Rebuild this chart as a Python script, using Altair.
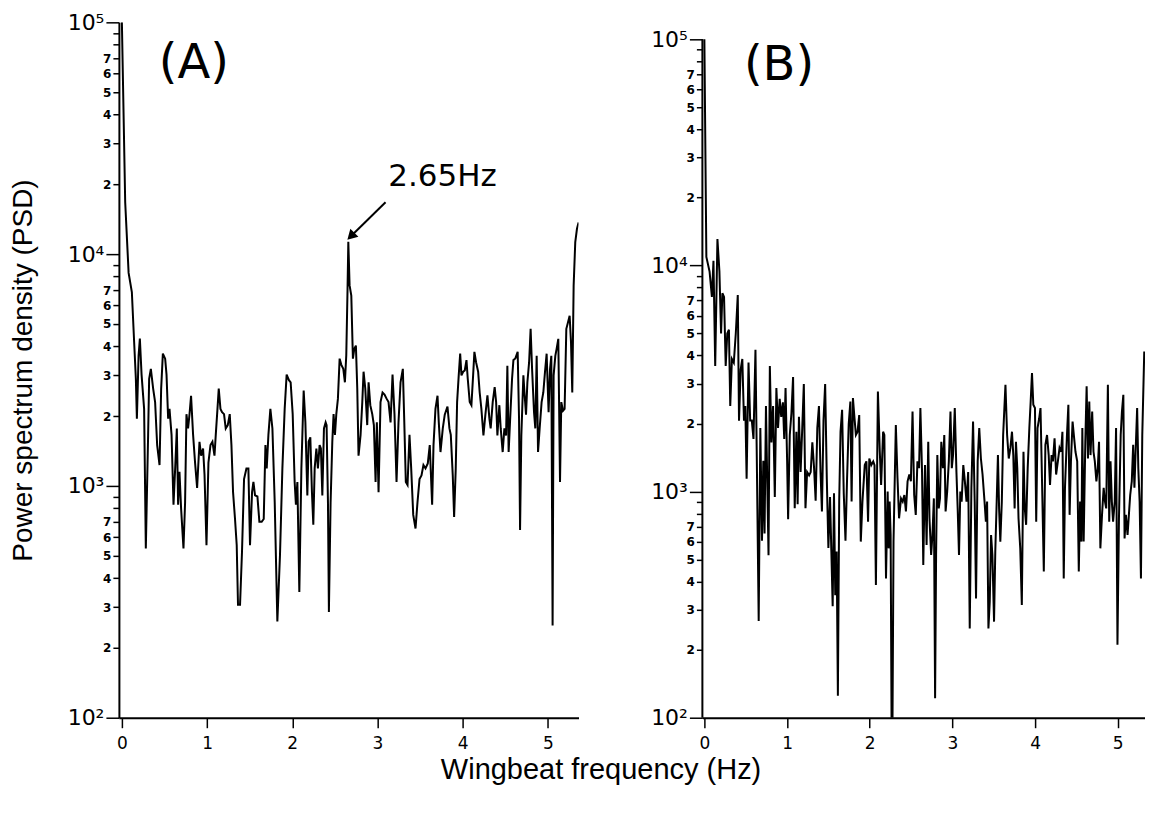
import altair as alt
import pandas as pd

# ---------------- data ----------------
a_freq = [
    0.000, 0.039, 0.079, 0.117, 0.144, 0.164, 0.176, 0.196, 0.211, 0.231,
    0.261, 0.281, 0.308, 0.320, 0.340, 0.367, 0.390, 0.414, 0.442, 0.461,
    0.481, 0.508, 0.524, 0.543, 0.559, 0.583, 0.606, 0.625, 0.645, 0.660,
    0.676, 0.695, 0.723, 0.742, 0.758, 0.777, 0.794, 0.812, 0.836, 0.859,
    0.883, 0.911, 0.930, 0.953, 0.970, 0.993, 1.016, 1.040, 1.063, 1.087,
    1.102, 1.122, 1.137, 1.157, 1.176, 1.199, 1.219, 1.243, 1.266, 1.286,
    1.305, 1.328, 1.348, 1.363, 1.387, 1.410, 1.434, 1.462, 1.485, 1.504,
    1.528, 1.544, 1.563, 1.591, 1.614, 1.641, 1.665, 1.685, 1.700, 1.720,
    1.743, 1.767, 1.794, 1.825, 1.856, 1.884, 1.911, 1.934, 1.961, 1.981,
    2.005, 2.028, 2.043, 2.060, 2.083, 2.107, 2.134, 2.154, 2.177, 2.192,
    2.212, 2.231, 2.247, 2.263, 2.283, 2.301, 2.321, 2.336, 2.353, 2.372,
    2.392, 2.403, 2.419, 2.430, 2.450, 2.470, 2.485, 2.501, 2.517, 2.536,
    2.556, 2.576, 2.599, 2.618, 2.634, 2.649, 2.658, 2.673, 2.693, 2.712,
    2.728, 2.747, 2.763, 2.778, 2.802, 2.822, 2.837, 2.857, 2.880, 2.896,
    2.916, 2.939, 2.958, 2.978, 2.993, 3.013, 3.036, 3.060, 3.083, 3.107,
    3.130, 3.154, 3.177, 3.200, 3.224, 3.247, 3.271, 3.298, 3.314, 3.333,
    3.353, 3.376, 3.396, 3.420, 3.447, 3.470, 3.494, 3.517, 3.540, 3.564,
    3.591, 3.614, 3.642, 3.658, 3.681, 3.705, 3.720, 3.740, 3.767, 3.790,
    3.822, 3.845, 3.861, 3.884, 3.900, 3.919, 3.935, 3.954, 3.971, 3.986,
    4.006, 4.025, 4.045, 4.060, 4.083, 4.103, 4.123, 4.138, 4.158, 4.182,
    4.200, 4.220, 4.244, 4.267, 4.291, 4.314, 4.329, 4.353, 4.376, 4.393,
    4.408, 4.431, 4.447, 4.470, 4.490, 4.510, 4.525, 4.540, 4.560, 4.580,
    4.596, 4.619, 4.646, 4.662, 4.674, 4.689, 4.713, 4.728, 4.744, 4.760,
    4.780, 4.798, 4.815, 4.838, 4.853, 4.869, 4.885, 4.904, 4.927, 4.947,
    4.967, 4.986, 5.009, 5.026, 5.041, 5.056, 5.068, 5.088, 5.103, 5.123,
    5.143, 5.158, 5.178, 5.197, 5.217, 5.237, 5.256, 5.272, 5.287, 5.303,
    5.322, 5.342, 5.361,
]
a_psd = [
    100000, 16700, 8300, 6860, 4170, 2900, 1950, 3640, 4320, 3020,
    2150, 537, 1660, 2900, 3200, 2630, 2300, 1500, 1230, 2630,
    3720, 3540, 3020, 1950, 2150, 1660, 830, 1180, 1770, 830,
    1150, 800, 537, 850, 2040, 1770, 2040, 2450, 1660, 1260,
    980, 1550, 1350, 1450, 1120, 555, 1260, 1500, 1550, 1350,
    1660, 2150, 2630, 2150, 2080, 2040, 1770, 1830, 2040, 1500,
    940, 720, 555, 307, 307, 520, 1070, 1190, 1190, 555,
    940, 1040, 910, 900, 700, 700, 720, 1500, 1190, 1660,
    2150, 1770, 850, 260, 505, 1190, 2150, 3020, 2860, 2800,
    2040, 1040, 830, 1040, 349, 1190, 2580, 1880, 910, 1550,
    1620, 940, 680, 1190, 1450, 1190, 1500, 1450, 910, 1770,
    1880, 1830, 850, 286, 850, 1550, 2040, 1660, 2040, 2380,
    3540, 3330, 3200, 2800, 3660, 7100, 11300, 7330, 6620, 3540,
    3900, 4030, 2630, 1350, 1660, 2300, 3110, 2630, 1830, 2800,
    2230, 2040, 1830, 1040, 1880, 940, 2300, 2530, 2480, 2380,
    2300, 1880, 3020, 2040, 1040, 1880, 2800, 3200, 1950, 1040,
    1010, 1660, 1190, 750, 655, 850, 1070, 1110, 1230, 1190,
    1250, 1500, 830, 1500, 2150, 2450, 1880, 1400, 1770, 2030,
    2200, 1770, 1660, 1110, 735, 1190, 2300, 3000, 3720, 3000,
    3110, 3150, 3490, 2900, 2300, 2230, 3000, 3790, 3410, 3110,
    2530, 2150, 1650, 2030, 2460, 1950, 1770, 2300, 2670, 2300,
    1650, 2230, 1770, 1400, 1770, 1650, 3300, 1400, 2030, 2900,
    3490, 3550, 3790, 1950, 645, 1650, 3000, 2460, 2030, 2800,
    3410, 4760, 3200, 2080, 1770, 3640, 1400, 1770, 2300, 2530,
    3110, 3720, 2080, 3200, 3640, 250, 3000, 3640, 3900, 4310,
    1040, 2300, 2110, 2150, 4760, 5080, 5420, 4170, 2530, 7330,
    11270, 12860, 13700,
]

b_freq = [
    0.000, 0.024, 0.063, 0.091, 0.110, 0.131, 0.158, 0.182, 0.202, 0.218,
    0.238, 0.258, 0.277, 0.297, 0.313, 0.333, 0.356, 0.380, 0.404, 0.419,
    0.439, 0.459, 0.479, 0.495, 0.511, 0.534, 0.554, 0.574, 0.594, 0.618,
    0.633, 0.657, 0.677, 0.697, 0.713, 0.728, 0.745, 0.760, 0.776, 0.792,
    0.811, 0.831, 0.852, 0.871, 0.891, 0.911, 0.930, 0.950, 0.966, 0.982,
    1.001, 1.013, 1.033, 1.053, 1.073, 1.093, 1.113, 1.128, 1.144, 1.164,
    1.184, 1.203, 1.223, 1.243, 1.267, 1.286, 1.306, 1.327, 1.346, 1.366,
    1.386, 1.405, 1.422, 1.441, 1.461, 1.481, 1.500, 1.520, 1.536, 1.552,
    1.568, 1.583, 1.600, 1.615, 1.631, 1.647, 1.666, 1.686, 1.707, 1.726,
    1.746, 1.766, 1.781, 1.797, 1.813, 1.833, 1.853, 1.873, 1.892, 1.912,
    1.940, 1.960, 1.980, 1.995, 2.019, 2.043, 2.058, 2.075, 2.099, 2.122,
    2.138, 2.162, 2.177, 2.197, 2.217, 2.229, 2.241, 2.253, 2.264, 2.276,
    2.288, 2.316, 2.336, 2.355, 2.379, 2.399, 2.419, 2.438, 2.458, 2.479,
    2.498, 2.518, 2.538, 2.557, 2.577, 2.597, 2.613, 2.633, 2.648, 2.669,
    2.688, 2.708, 2.723, 2.743, 2.759, 2.776, 2.791, 2.803, 2.818, 2.835,
    2.850, 2.866, 2.886, 2.902, 2.918, 2.937, 2.957, 2.977, 2.993, 3.008,
    3.029, 3.049, 3.064, 3.080, 3.096, 3.112, 3.132, 3.151, 3.171, 3.191,
    3.210, 3.230, 3.250, 3.270, 3.286, 3.306, 3.325, 3.345, 3.365, 3.389,
    3.405, 3.420, 3.436, 3.452, 3.468, 3.484, 3.504, 3.519, 3.536, 3.551,
    3.565, 3.580, 3.598, 3.614, 3.642, 3.662, 3.682, 3.702, 3.721, 3.737,
    3.753, 3.769, 3.785, 3.800, 3.821, 3.840, 3.860, 3.876, 3.892, 3.911,
    3.931, 3.947, 3.963, 3.979, 3.999, 4.014, 4.030, 4.050, 4.066, 4.086,
    4.106, 4.125, 4.145, 4.165, 4.181, 4.200, 4.216, 4.236, 4.255, 4.276,
    4.296, 4.315, 4.331, 4.347, 4.362, 4.386, 4.403, 4.418, 4.434, 4.454,
    4.469, 4.489, 4.510, 4.529, 4.545, 4.561, 4.572, 4.588, 4.608, 4.624,
    4.640, 4.656, 4.671, 4.691, 4.707, 4.723, 4.742, 4.759, 4.774, 4.790,
    4.810, 4.830, 4.846, 4.861, 4.881, 4.897, 4.913, 4.929, 4.944, 4.964,
    4.980, 4.997, 5.015, 5.036, 5.051, 5.068, 5.083, 5.099, 5.119, 5.135,
    5.151, 5.170, 5.187, 5.202, 5.218, 5.235, 5.249, 5.265, 5.281, 5.297,
    5.321,
]
b_psd = [
    100000, 10900, 9400, 7260, 10500, 3590, 13100, 9400, 5000, 7540,
    7260, 3590, 5000, 5200, 2390, 3860, 3720, 5000, 7400, 2060,
    3460, 3860, 2060, 2390, 1140, 3720, 2060, 2060, 1710, 4240,
    1530, 268, 1910, 607, 1370, 653, 2390, 1140, 523, 3590,
    1650, 2390, 946, 2870, 1910, 2570, 2140, 2480, 1710, 2870,
    1370, 755, 1780, 2220, 3210, 845, 1840, 880, 2140, 1220,
    1910, 2990, 845, 1220, 1180, 1220, 1650, 1270, 912, 1910,
    2390, 1220, 817, 2060, 2990, 1140, 563, 946, 543, 311,
    982, 348, 543, 125, 912, 1840, 2300, 982, 607, 1140,
    1990, 2500, 903, 2590, 2180, 1780, 1840, 2180, 601, 903,
    1310, 1360, 736, 1400, 1310, 1360, 1310, 386, 2770, 1500,
    1070, 1840, 1780, 413, 1000, 561, 903, 643, 100, 100,
    601, 1970, 1150, 762, 933, 903, 966, 817, 1110, 1190,
    1110, 2260, 966, 789, 1360, 1270, 2340, 1220, 474, 1310,
    581, 1660, 762, 525, 643, 933, 122, 525, 1450, 843,
    933, 1660, 1270, 1780, 817, 1000, 1360, 2260, 1270, 1450,
    2340, 1220, 843, 525, 1000, 903, 1310, 1110, 903, 1220,
    248, 1040, 2040, 903, 337, 1360, 1910, 1400, 1190, 903,
    736, 903, 248, 326, 643, 525, 266, 543, 903, 1450,
    843, 601, 903, 1780, 2970, 1780, 1400, 1560, 1840, 1450,
    843, 1660, 1270, 762, 561, 315, 1500, 843, 713, 1270,
    1910, 2500, 3340, 2420, 2340, 736, 1910, 2110, 2340, 1040,
    443, 1610, 1780, 1450, 1070, 1450, 1360, 1720, 1190, 1360,
    1560, 1500, 1840, 413, 1040, 1780, 2420, 789, 1360, 2040,
    1780, 1500, 1360, 443, 903, 601, 1910, 601, 1660, 2920,
    1400, 2500, 1450, 2260, 1500, 1360, 1110, 1270, 1660, 561,
    789, 1040, 903, 843, 2970, 736, 1360, 903, 736, 903,
    1910, 210, 762, 1780, 2260, 2680, 621, 789, 643, 789,
    966, 1110, 1610, 1040, 1560, 2340, 1270, 903, 413, 1780,
    4160,
]

y_tick_values = [100, 200, 300, 400, 500, 600, 700, 800, 900,
                 1000, 2000, 3000, 4000, 5000, 6000, 7000, 8000, 9000,
                 10000, 20000, 30000, 40000, 50000, 60000, 70000, 80000, 90000,
                 100000]
x_tick_values = [0, 1, 2, 3, 4, 5]

a_x_domain = [-0.035, 5.36]
a_y_domain = [100, 100000]
b_x_domain = [-0.024, 5.33]
b_y_domain = [100, 118900]      # panel B's axis stops at 1e5, a little below the top
b_axis_line_psd = [100, 100000]

panel_text = ["(A)", "(B)"]
panel_text_f = [0.844, 0.903]
panel_text_psd = [65900, 76000]

peak_label = ["2.65Hz"]
peak_label_f = [3.763]
peak_label_psd = [21500]
arrow_f = [3.095]
arrow_psd = [16750]
arrow_f2 = [2.688]
arrow_psd2 = [11940]

# ---------------- chart ----------------
df_a = pd.DataFrame({"f": a_freq, "psd": a_psd})
df_b = pd.DataFrame({"f": b_freq, "psd": b_psd})

major = "datum.value==100||datum.value==1000||datum.value==10000||datum.value==100000"
lead = "round(datum.value/pow(10,floor(log(datum.value)/LN10+1e-6)))"
label_expr = ("datum.value==100?'10²':datum.value==1000?'10³':datum.value==10000?'10⁴':"
              "datum.value==100000?'10⁵':(" + lead + ">=8?'':''+" + lead + ")")

y_common = dict(
    values=y_tick_values,
    labelExpr=label_expr,
    labelOverlap=False,
    labelFont="DejaVu Sans",
    labelColor="black",
    labelFontSize={"condition": {"test": major, "value": 22}, "value": 12},
    labelFontWeight={"condition": {"test": major, "value": "normal"}, "value": "bold"},
    tickSize={"condition": {"test": major, "value": 13}, "value": 6},
    labelPadding=2,
    tickColor="black",
    tickWidth=1.5,
    domainColor="black",
    domainWidth=2,
    grid=False,
)

x_axis = alt.Axis(
    title=None,
    values=x_tick_values,
    format="d",
    labelFont="DejaVu Sans",
    labelFontSize=17,
    labelColor="black",
    labelFlush=False,
    labelPadding=8,
    tickSize=10,
    tickColor="black",
    tickWidth=1.5,
    domainColor="black",
    domainWidth=2,
    grid=False,
)


def panel(df, xdom, ydom, ytitle, idx, w, h):
    xs = alt.Scale(domain=xdom, nice=False, zero=False)
    ys = alt.Scale(type="log", domain=ydom, nice=False)
    if ytitle:
        yax = alt.Axis(title=ytitle, titleFont="Liberation Sans", titleFontSize=28,
                       titleFontWeight="normal", titleColor="black", titlePadding=30,
                       **y_common)
    else:
        yax = alt.Axis(title=None, domain=False, **y_common)
    line = alt.Chart(df).mark_line(color="black", strokeWidth=2.0, clip=True).encode(
        x=alt.X("f:Q", scale=xs, axis=x_axis),
        y=alt.Y("psd:Q", scale=ys, axis=yax),
    )
    lab_df = pd.DataFrame({"f": [panel_text_f[idx]], "psd": [panel_text_psd[idx]],
                           "t": [panel_text[idx]]})
    lab = alt.Chart(lab_df).mark_text(font="DejaVu Sans", fontSize=48, color="black",
                                      baseline="middle", align="center").encode(
        x="f:Q", y="psd:Q", text="t:N")
    layers = [line, lab]
    if idx == 0:
        pk = pd.DataFrame({"f": peak_label_f, "psd": peak_label_psd, "t": peak_label})
        txt = alt.Chart(pk).mark_text(font="DejaVu Sans", fontSize=31, color="black",
                                      baseline="middle", align="center").encode(
            x="f:Q", y="psd:Q", text="t:N")
        ar = pd.DataFrame({"f": arrow_f, "psd": arrow_psd, "f2": arrow_f2, "psd2": arrow_psd2})
        rule = alt.Chart(ar).mark_rule(color="black", strokeWidth=2).encode(
            x="f:Q", y="psd:Q", x2="f2:Q", y2="psd2:Q")
        head = alt.Chart(ar).mark_point(shape="triangle-up", filled=True, size=130,
                                        angle=225, color="black", opacity=1).encode(
            x="f2:Q", y="psd2:Q")
        layers += [txt, rule, head]
    else:
        ax_df = pd.DataFrame({"f": [xdom[0]], "psd": [b_axis_line_psd[0]],
                              "psd2": [b_axis_line_psd[1]]})
        axis_line = alt.Chart(ax_df).mark_rule(color="black", strokeWidth=2).encode(
            x="f:Q", y="psd:Q", y2="psd2:Q")
        layers += [axis_line]
    return alt.layer(*layers).properties(width=w, height=h)


panel_a = panel(df_a, a_x_domain, a_y_domain, "Power spectrum density (PSD)", 0, 460, 696)
panel_b = panel(df_b, b_x_domain, b_y_domain, None, 1, 443, 696)

chart = alt.hconcat(panel_a, panel_b, spacing=72).properties(
    title=alt.TitleParams("Wingbeat frequency (Hz)", orient="bottom", anchor="middle",
                          font="Liberation Sans", fontSize=29, fontWeight="normal",
                          color="black", offset=4, dx=24),
    padding={"left": 1, "top": 3, "right": 0, "bottom": 4},
).configure_view(strokeWidth=0)

chart.save("out.html", embed_options={"renderer": "svg", "actions": False})
